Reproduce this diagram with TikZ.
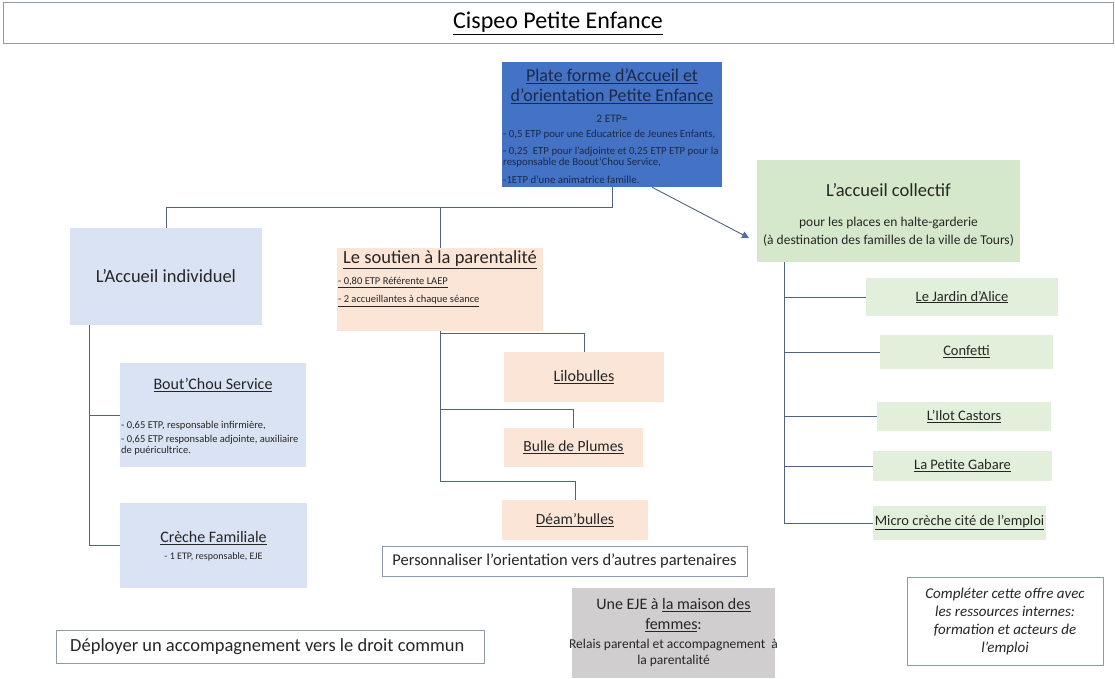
\documentclass[tikz,border=0pt]{standalone}
\usepackage{fontspec}
\setmainfont{Carlito}
\usetikzlibrary{arrows.meta}
\definecolor{pfblue}{HTML}{4472C4}
\definecolor{pftxt}{HTML}{1B2A4A}
\definecolor{lav}{HTML}{DAE3F3}
\definecolor{peach}{HTML}{FBE5D6}
\definecolor{grn}{HTML}{E2EFDA}
\definecolor{grnb}{HTML}{D6E8CB}
\definecolor{gry}{HTML}{D0CECE}
\definecolor{conncol}{HTML}{51647F}
\definecolor{arrcol}{HTML}{4A6FB0}
\definecolor{bord}{HTML}{8C9AAD}
\definecolor{txt}{HTML}{262626}
\newcommand{\fsz}[2]{\fontsize{#1}{#2}\selectfont}
\begin{document}
\begin{tikzpicture}[x=1pt,y=-1pt,
  box/.style={rectangle, inner sep=0pt, draw=none, text=txt},
  wbox/.style={rectangle, inner sep=0pt, draw=bord, line width=1pt, fill=white, text=txt},
  conn/.style={draw=conncol, line width=0.9pt},
  lbl/.style={inner sep=0pt, text=txt},
  pfl/.style={inner sep=0pt, text=pftxt, font=\fsz{10.8}{12}, anchor=west},
  sml/.style={inner sep=0pt, text=txt, font=\fsz{10.5}{11}, anchor=west},
  grnbox/.style={box, fill=grn, font=\fsz{14.5}{16}},
  pchbox/.style={box, fill=peach, font=\fsz{15.5}{17}},
]
\useasboundingbox (0,0) rectangle (1115,679);
\fill[white] (0,0) rectangle (1115,679);

% title
\node[wbox, minimum width=1110, minimum height=41, font=\fsz{24}{26}, text=black] (title) at (558,23.5) {\underline{Cispeo Petite Enfance}};

% boxes
\node[box, fill=pfblue, minimum width=220, minimum height=125] (pf) at (612,124.5) {};
\node[box, fill=lav, minimum width=192, minimum height=97, font=\fsz{18.5}{20}] (ind) at (166,276.5) {L’Accueil individuel};
\node[box, fill=peach, minimum width=206, minimum height=83] (sout) at (440,289.5) {};
\node[box, fill=grnb, minimum width=263, minimum height=102] (coll) at (888.5,211) {};
\node[box, fill=lav, minimum width=186, minimum height=104] (bout) at (213,415) {};
\node[box, fill=lav, minimum width=187, minimum height=85] (creche) at (213.5,545.5) {};
\node[pchbox, minimum width=160, minimum height=50, font=\fsz{16}{17}] (lilo) at (584,377) {\underline{Lilobulles}};
\node[pchbox, minimum width=139, minimum height=39] (bulle) at (573.5,447.5) {\underline{Bulle de Plumes}};
\node[pchbox, minimum width=146, minimum height=40] (deam) at (575,520) {\underline{Déam’bulles}};
\node[wbox, minimum width=365, minimum height=30, font=\fsz{16.5}{18}] (perso) at (564.5,561) {Personnaliser l’orientation vers d’autres partenaires};
\node[grnbox, minimum width=192, minimum height=38] (jardin) at (962,297) {\underline{Le Jardin d’Alice}};
\node[grnbox, minimum width=173, minimum height=34] (confetti) at (966.5,352) {\underline{Confetti}};
\node[grnbox, minimum width=174, minimum height=29] (ilot) at (964,416.5) {\underline{L’Ilot Castors}};
\node[grnbox, minimum width=179, minimum height=30] (gabare) at (962.5,466) {\underline{La Petite Gabare}};
\node[grnbox, minimum width=173, minimum height=34] (micro) at (959.5,523) {\underline{Micro crèche cité de l’emploi}};
\node[box, fill=gry, minimum width=203, minimum height=90] (eje) at (673.5,633) {};
\node[wbox, minimum width=196, minimum height=88, font=\fsz{15}{18}\itshape, align=center] (comp) at (1005,621) {Compléter cette offre avec\\les ressources internes:\\formation et acteurs de\\l’emploi};
\node[wbox, minimum width=428, minimum height=33] (deploy) at (270,646.5) {};
\node[lbl, anchor=west, font=\fsz{18.5}{20}] at (70,646.5) {Déployer un accompagnement vers le droit commun};

% texts: plate forme
\node[lbl, text=pftxt, font=\fsz{18}{20}, align=center] at (612,86.5) {\underline{Plate forme d’Accueil et}\\\underline{d’orientation Petite Enfance}};
\node[lbl, text=pftxt, font=\fsz{11.5}{12}] at (612,119) {2 ETP=};
\node[pfl] at (503,135) {- 0,5 ETP pour une Educatrice de Jeunes Enfants,};
\node[pfl] at (503,152) {- 0,25\ \ ETP pour l’adjointe et 0,25 ETP ETP pour la};
\node[pfl] at (503,163) {responsable de Boout’Chou Service,};
\node[pfl] at (503,180) {-1ETP d’une animatrice famille.};

% soutien
\node[lbl, font=\fsz{18.5}{20}] at (440,260) {\underline{Le soutien à la parentalité}};
\node[sml] at (338,283) {\underline{- 0,80 ETP Référente LAEP}};
\node[sml] at (338,301) {\underline{- 2 accueillantes à chaque séance}};

% collectif
\node[lbl, font=\fsz{18.5}{20}] at (888.5,190) {L’accueil collectif};
\node[lbl, font=\fsz{13.5}{14}] at (888.5,223) {pour les places en halte-garderie};
\node[lbl, font=\fsz{13.5}{14}] at (888.5,240) {(à destination des familles de la ville de Tours)};

% bout'chou
\node[lbl, font=\fsz{16}{18}] at (213,385) {\underline{Bout’Chou Service}};
\node[sml] at (121,426) {- 0,65 ETP, responsable infirmière,};
\node[sml] at (121,440) {- 0,65 ETP responsable adjointe, auxiliaire};
\node[sml] at (121,451) {de puéricultrice.};

% creche
\node[lbl, font=\fsz{16}{18}] at (213.5,538) {\underline{Crèche Familiale}};
\node[lbl, font=\fsz{10}{11}] at (213.5,557) {- 1 ETP, responsable, EJE};

% EJE
\node[lbl, font=\fsz{16}{18}] at (673.5,605) {Une EJE à \underline{la maison des}};
\node[lbl, font=\fsz{16}{18}] at (673.5,625) {\underline{femmes}:};
\node[lbl, font=\fsz{13.5}{14}] at (673.5,645) {Relais parental et accompagnement\ \ à};
\node[lbl, font=\fsz{13.5}{14}] at (673.5,661) {la parentalité};

% connectors
\coordinate (ca) at (749,238);
\draw[conn] (pf.south) -- ++(0,20) coordinate (j1) -| (ind.north);
\draw[conn] (j1 -| sout.north) -- (sout.north);
\draw[conn, -{Triangle[length=7pt,width=7pt,color=arrcol]}] ([xshift=40pt]pf.south) -- (ca);
\draw[conn] ([xshift=20pt]ind.south west) |- (bout.west);
\draw[conn] ([xshift=20pt]ind.south west) |- (creche.west);
\draw[conn] (sout.south) -- ++(0,2) -| (lilo.north);
\draw[conn] (sout.south) |- ([yshift=18pt]bulle.north) -- (bulle.north);
\draw[conn] (sout.south) |- ([yshift=18pt]deam.north) -- (deam.north);
\draw[conn] ([xshift=28pt]coll.south west) |- (jardin.west);
\draw[conn] ([xshift=28pt]coll.south west) |- (confetti.west);
\draw[conn] ([xshift=28pt]coll.south west) |- (ilot.west);
\draw[conn] ([xshift=28pt]coll.south west) |- (gabare.west);
\draw[conn] ([xshift=28pt]coll.south west) |- (micro.west);
\end{tikzpicture}
\end{document}
